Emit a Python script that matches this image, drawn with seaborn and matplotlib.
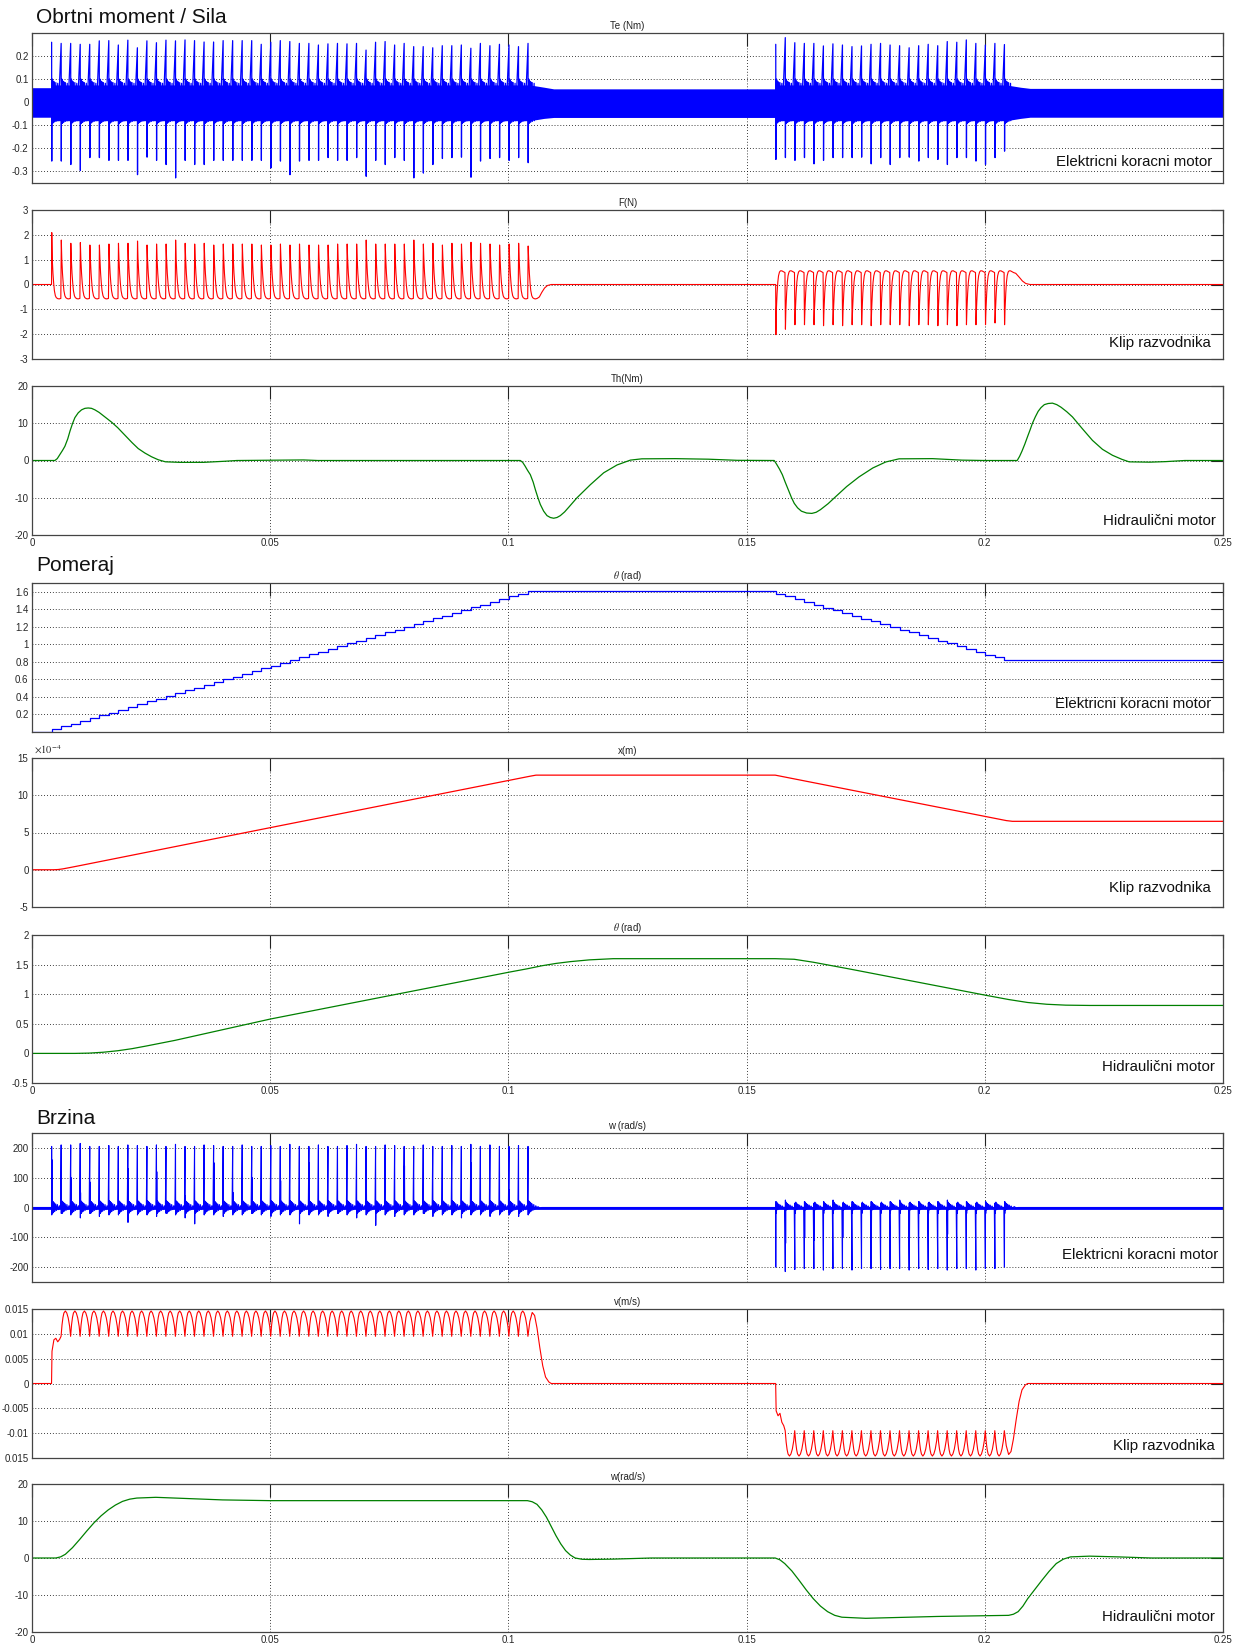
import matplotlib
matplotlib.use('Agg')
import matplotlib.pyplot as plt
import seaborn as sns

# ---------------- data ----------------
# step instants of the stepping motor (s)
steps_fwd = [0.0041, 0.0061, 0.0081, 0.0101, 0.0121, 0.0141, 0.0161, 0.0181, 0.0201, 0.0221,
             0.0241, 0.0261, 0.0281, 0.0301, 0.0321, 0.0341, 0.0361, 0.0381, 0.0401, 0.0421,
             0.0441, 0.0461, 0.0481, 0.0501, 0.0521, 0.0541, 0.0561, 0.0581, 0.0601, 0.0621,
             0.0641, 0.0661, 0.0681, 0.0701, 0.0721, 0.0741, 0.0761, 0.0781, 0.0801, 0.0821,
             0.0841, 0.0861, 0.0881, 0.0901, 0.0921, 0.0941, 0.0961, 0.0981, 0.1001, 0.1021,
             0.1041]
steps_rev = [0.1561, 0.1581, 0.1601, 0.1621, 0.1641, 0.1661, 0.1681, 0.1701, 0.1721, 0.1741,
             0.1761, 0.1781, 0.1801, 0.1821, 0.1841, 0.1861, 0.1881, 0.1901, 0.1921, 0.1941,
             0.1961, 0.1981, 0.2001, 0.2021, 0.2041]

# Te (Nm) spikes
te_up_fwd = [0.260, 0.255, 0.255, 0.251, 0.251, 0.266, 0.267, 0.248, 0.269, 0.236,
             0.266, 0.258, 0.269, 0.266, 0.270, 0.267, 0.261, 0.261, 0.267, 0.267,
             0.267, 0.267, 0.251, 0.260, 0.267, 0.263, 0.255, 0.255, 0.248, 0.253,
             0.255, 0.253, 0.255, 0.226, 0.260, 0.263, 0.248, 0.255, 0.241, 0.241,
             0.236, 0.245, 0.245, 0.248, 0.234, 0.255, 0.245, 0.251, 0.248, 0.241,
             0.255]
te_dn_fwd = [-0.255, -0.255, -0.270, -0.296, -0.240, -0.240, -0.252, -0.252, -0.252, -0.314,
             -0.238, -0.252, -0.270, -0.328, -0.252, -0.270, -0.270, -0.252, -0.252, -0.252,
             -0.252, -0.252, -0.252, -0.285, -0.255, -0.314, -0.255, -0.252, -0.252, -0.240,
             -0.252, -0.252, -0.240, -0.321, -0.252, -0.270, -0.240, -0.252, -0.328, -0.307,
             -0.270, -0.244, -0.240, -0.238, -0.325, -0.255, -0.244, -0.240, -0.252, -0.240,
             -0.262]
te_up_rev = [0.251, 0.280, 0.258, 0.255, 0.255, 0.244, 0.253, 0.248, 0.241, 0.244,
             0.251, 0.255, 0.248, 0.245, 0.236, 0.245, 0.251, 0.245, 0.263, 0.260,
             0.270, 0.255, 0.248, 0.255, 0.250]
te_dn_rev = [-0.248, -0.240, -0.252, -0.240, -0.267, -0.252, -0.240, -0.240, -0.240, -0.238,
             -0.267, -0.240, -0.270, -0.240, -0.238, -0.255, -0.240, -0.248, -0.270, -0.240,
             -0.240, -0.255, -0.270, -0.240, -0.212]
te_offs = [0.00002, 0.00005, 0.00008, 0.00018, 0.00022, 0.00035, 0.0004, 0.0006, 0.00065,
           0.0009, 0.00095, 0.0013, 0.00135]
te_shape = ['up', 'dn', 0.0, 0.1, -0.092, 0.092, -0.088, 0.088, -0.085, 0.085, -0.083, 0.082, -0.08]
te_band_t = [0, 0.0041, 0.0041, 0.1045, 0.1075, 0.1095, 0.1561, 0.1561, 0.2045, 0.2075, 0.2095, 0.25]
te_band_hi = [0.063, 0.063, 0.075, 0.075, 0.065, 0.058, 0.058, 0.075, 0.075, 0.065, 0.06, 0.06]
te_band_lo = [-0.065, -0.065, -0.08, -0.08, -0.07, -0.066, -0.066, -0.08, -0.08, -0.07, -0.065, -0.065]

# F (N) on the spool
f_pk_fwd = [2.09, 1.79, 1.66, 1.69, 1.59, 1.59, 1.63, 1.66, 1.66, 1.75,
            1.59, 1.63, 1.63, 1.79, 1.66, 1.63, 1.66, 1.59, 1.63, 1.63,
            1.63, 1.63, 1.59, 1.59, 1.63, 1.59, 1.63, 1.59, 1.59, 1.59,
            1.63, 1.63, 1.63, 1.79, 1.63, 1.63, 1.63, 1.63, 1.79, 1.63,
            1.66, 1.59, 1.66, 1.63, 1.70, 1.66, 1.63, 1.59, 1.63, 1.66,
            1.55]
f_pk_rev = [-2.02, -1.80, -1.62, -1.62, -1.62, -1.66, -1.62, -1.66, -1.62, -1.62,
            -1.66, -1.62, -1.62, -1.62, -1.66, -1.62, -1.62, -1.66, -1.62, -1.66,
            -1.62, -1.62, -1.62, -1.55, -1.62]
f_offs = [0.00005, 0.00015, 0.0003, 0.00045, 0.0006, 0.0008, 0.001, 0.0013, 0.0016, 0.00195]
f_shape_fwd = ['pk', 1.05, 0.45, 0.05, -0.25, -0.45, -0.53, -0.57, -0.58, -0.56]
f_shape_rev = ['pk', -1.0, -0.35, 0.1, 0.35, 0.5, 0.55, 0.55, 0.52, 0.48]
f_head_t, f_head_v = [0, 0.0041], [0, 0]
f_mid_t = [0.1065, 0.107, 0.1076, 0.1082, 0.109, 0.1561]
f_mid_v = [-0.5, -0.32, -0.14, -0.04, 0, 0]
f_end_t = [0.2065, 0.2072, 0.2079, 0.2086, 0.2095, 0.25]
f_end_v = [0.45, 0.3, 0.14, 0.04, 0, 0]

# Th (Nm) of the hydraulic motor
th_t = [0, 0.0048, 0.0053, 0.0058, 0.0064, 0.0069, 0.0075, 0.008, 0.0085, 0.009, 0.0097,
        0.0104, 0.0111, 0.0118, 0.0125, 0.0132, 0.0141, 0.015, 0.0167, 0.018,
        0.0195, 0.021, 0.0223, 0.0237, 0.0251, 0.0265, 0.028, 0.031, 0.036, 0.0405, 0.043, 0.057, 0.06,
        0.1025, 0.103, 0.1035, 0.104, 0.1046, 0.1052, 0.1057, 0.1062, 0.1067, 0.1074, 0.1081,
        0.1088, 0.1095, 0.1102, 0.1109, 0.1118, 0.1127, 0.1144, 0.1172, 0.12,
        0.1228, 0.1256, 0.128, 0.135, 0.142, 0.148, 0.1558,
        0.1563, 0.1569, 0.1575, 0.1581, 0.1588, 0.1594, 0.16, 0.1607, 0.1615, 0.1626, 0.1637,
        0.1646, 0.1655, 0.1671, 0.1687, 0.171, 0.1736, 0.1765, 0.1792,
        0.182, 0.189, 0.1952, 0.2, 0.2068,
        0.2073, 0.2078, 0.2084, 0.209, 0.2095, 0.21, 0.2106, 0.2112, 0.2118, 0.2125, 0.2133,
        0.2142, 0.2151, 0.216, 0.2172, 0.2184, 0.2205, 0.2226, 0.2247, 0.2268,
        0.2288, 0.2303, 0.2346, 0.238, 0.242, 0.25]
th_v = [0, 0, 0.5, 1.5, 2.7, 3.8, 5.8, 8.0, 9.9, 11.5, 12.8,
        13.6, 14.0, 14.1, 14.0, 13.6, 12.9, 12.0, 10.3, 8.8,
        6.8, 4.8, 3.2, 2.0, 1.0, 0.2, -0.35, -0.5, -0.5, -0.2, 0, 0.15, 0,
        0, -0.5, -1.5, -2.6, -3.8, -5.8, -8.0, -10.0, -11.8, -13.6, -14.8,
        -15.3, -15.5, -15.3, -14.8, -13.8, -12.5, -10.0, -6.5, -3.3,
        -1.2, 0.1, 0.45, 0.5, 0.35, 0.05, 0,
        -1.0, -2.3, -3.8, -5.8, -8.0, -9.9, -11.5, -12.7, -13.6, -14.1, -14.2,
        -13.9, -13.2, -11.6, -9.7, -7.0, -4.4, -2.0, -0.4,
        0.45, 0.5, 0.1, 0, 0,
        1.1, 2.5, 4.4, 6.5, 8.2, 10.0, 11.7, 13.2, 14.2, 15.0, 15.3,
        15.4, 15.0, 14.3, 13.1, 11.7, 8.5, 5.4, 3.0, 1.4,
        0.3, -0.36, -0.45, -0.3, 0, 0]

# theta (rad) of the stepping motor: level after each step
theta_e_levels = [0.0,
                  0.032, 0.063, 0.095, 0.126, 0.158, 0.190, 0.221, 0.253, 0.284, 0.316,
                  0.348, 0.379, 0.411, 0.442, 0.474, 0.506, 0.537, 0.569, 0.600, 0.632,
                  0.664, 0.695, 0.727, 0.758, 0.790, 0.822, 0.853, 0.885, 0.916, 0.948,
                  0.980, 1.011, 1.043, 1.074, 1.106, 1.138, 1.169, 1.201, 1.232, 1.264,
                  1.296, 1.327, 1.359, 1.390, 1.422, 1.454, 1.485, 1.517, 1.548, 1.580,
                  1.610,
                  1.578, 1.547, 1.515, 1.484, 1.452, 1.420, 1.389, 1.357, 1.326, 1.294,
                  1.262, 1.231, 1.199, 1.168, 1.136, 1.104, 1.073, 1.041, 1.010, 0.978,
                  0.946, 0.915, 0.883, 0.852, 0.820]

# x (m) of the spool, in units of 1e-4 m
x_t = [0, 0.0045, 0.0055, 0.0065, 0.008, 0.01, 0.05, 0.1045, 0.1058, 0.156, 0.1572, 0.2045, 0.2058, 0.25]
x_v = [0, 0, 0.03, 0.12, 0.3, 0.55, 5.65, 12.55, 12.7, 12.7, 12.55, 6.6, 6.5, 6.5]

# theta (rad) of the hydraulic motor
theta_h_t = [0, 0.009, 0.012, 0.015, 0.018, 0.021, 0.024, 0.03, 0.05, 0.1, 0.104, 0.107, 0.11,
             0.113, 0.117, 0.122, 0.156, 0.16, 0.164, 0.168, 0.172, 0.2, 0.205, 0.209, 0.213,
             0.217, 0.222, 0.25]
theta_h_v = [0, 0, 0.005, 0.02, 0.045, 0.08, 0.125, 0.22, 0.58, 1.37, 1.43, 1.48, 1.52,
             1.55, 1.58, 1.6, 1.6, 1.59, 1.54, 1.48, 1.42, 0.985, 0.91, 0.86, 0.83,
             0.815, 0.81, 0.81]

# w (rad/s) of the stepping motor
w_pk_fwd = [205, 210, 210, 215, 205, 205, 208, 205, 210, 208,
            205, 210, 205, 212, 205, 205, 210, 208, 205, 205,
            210, 205, 205, 208, 205, 212, 205, 205, 210, 205,
            205, 208, 212, 205, 205, 210, 208, 205, 205, 210,
            205, 205, 208, 205, 212, 205, 210, 205, 205, 208,
            205]
w_un_fwd = [-25, -20, -25, -35, -20, -30, -25, -25, -50, -25,
            -25, -30, -20, -25, -35, -55, -25, -25, -30, -25,
            -25, -20, -25, -30, -25, -25, -55, -25, -25, -30,
            -20, -25, -35, -25, -60, -25, -30, -25, -25, -20,
            -30, -25, -25, -35, -25, -25, -30, -25, -25, -30,
            -25]
w_sec_fwd = [160, 15, 100, 50, 85, 15, 20, 15, 130, 20,
             15, 120, 15, 15, 40, 15, 15, 150, 15, 50,
             15, 100, 15, 15, 90, 15, 15, 150, 15, 15,
             20, 15, 15, 100, 15, 15, 15, 140, 15, 15,
             15, 15, 15, 15, 150, 15, 15, 15, 60, 15,
             15]
w_pk_rev = [-200, -215, -208, -205, -205, -210, -205, -205, -210, -205,
            -205, -208, -205, -205, -210, -205, -208, -205, -210, -205,
            -205, -210, -205, -205, -200]
w_ov_rev = [20, 25, 15, 20, 15, 20, 25, 15, 20, 15,
            20, 15, 20, 25, 15, 20, 15, 20, 25, 15,
            20, 15, 20, 15, 20]
w_sec_rev = [-20, -120, -20, -100, -110, -20, -20, -100, -20, -20,
             -120, -20, -20, -20, -100, -20, -20, -20, -90, -20,
             -20, -20, -20, -20, -20]
w_offs = [0.00002, 0.00005, 0.00009, 0.00013, 0.00017, 0.00022, 0.00028, 0.00035, 0.00043,
          0.00052, 0.00062, 0.00074, 0.00088, 0.00104, 0.00122, 0.00142, 0.00165, 0.0019]
w_shape_fwd = ['pk', 'un', 'sec', -18, 22, -20, 20, -16, 18, -14, 15, -12, 12, -10, 10, -7, 6, -3]
w_shape_rev = ['pk', 'ov', 'sec', 12, -6, 18, -8, 14, -6, 12, -5, 10, -4, 8, -3, 5, -2, 1]
w_head_t, w_head_v = [0, 0.0041], [0, 0]
w_mid_t, w_mid_v = [0.1062, 0.1066, 0.107, 0.1561], [3, -2, 0, 0]
w_end_t, w_end_v = [0.2062, 0.2066, 0.207, 0.25], [3, -2, 0, 0]

# v (m/s) of the spool
v_offs = [0.0, 0.0002, 0.0004, 0.0006, 0.0009, 0.0012, 0.0015, 0.0018]
v_shape_fwd = [0.0095, 0.0118, 0.0133, 0.0142, 0.0146, 0.0142, 0.0132, 0.0115]
v_shape_rev = [-0.0095, -0.0118, -0.0133, -0.0142, -0.0146, -0.0142, -0.0132, -0.0115]
v_head_t = [0, 0.0041, 0.0042, 0.0046, 0.005, 0.0054, 0.0058]
v_head_v = [0, 0, 0.0065, 0.0088, 0.0091, 0.0084, 0.0089]
v_mid_t = [0.1041, 0.1045, 0.105, 0.1055, 0.106, 0.1066, 0.1072, 0.1078, 0.1085, 0.109, 0.1561,
           0.1562, 0.1566, 0.157, 0.1574, 0.1578]
v_mid_v = [0.0095, 0.0125, 0.0143, 0.0137, 0.0112, 0.0072, 0.0036, 0.0013, 0.0003, 0, 0,
           -0.0055, -0.0065, -0.006, -0.0078, -0.0085]
v_end_t = [0.2041, 0.2045, 0.205, 0.2055, 0.206, 0.2066, 0.2072, 0.2078, 0.2085, 0.209, 0.25]
v_end_v = [-0.0095, -0.0125, -0.0143, -0.0137, -0.0112, -0.0072, -0.0036, -0.0013, -0.0003, 0, 0]

# w (rad/s) of the hydraulic motor
wh_t = [0, 0.005, 0.006, 0.007, 0.0085, 0.01, 0.0115, 0.013, 0.0145, 0.016,
        0.0175, 0.019, 0.0205, 0.022, 0.026, 0.03, 0.04, 0.05, 0.104, 0.105,
        0.106, 0.107, 0.108, 0.109, 0.11, 0.111, 0.112, 0.113, 0.114, 0.1155,
        0.117, 0.122, 0.13, 0.156, 0.157, 0.158, 0.1595, 0.161, 0.1625, 0.164,
        0.1655, 0.167, 0.1685, 0.17, 0.175, 0.19, 0.205, 0.206, 0.207, 0.208,
        0.209, 0.2105, 0.212, 0.2135, 0.215, 0.2165, 0.218, 0.222, 0.228, 0.235,
        0.25]
wh_v = [0, 0, 0.3, 1, 2.8, 5, 7.3, 9.5, 11.4, 13,
        14.3, 15.3, 15.9, 16.2, 16.4, 16.2, 15.7, 15.5, 15.5, 15.2,
        14.5, 13, 11, 8.5, 6, 3.8, 2, 0.8, 0, -0.35,
        -0.4, -0.3, 0, 0, -0.5, -1.5, -3.5, -6, -8.6, -11,
        -13, -14.5, -15.5, -16, -16.3, -15.8, -15.5, -15.2, -14.5, -13,
        -11, -8.5, -6, -3.6, -1.5, -0.3, 0.3, 0.5, 0.3, 0,
        0]

x_ticks = [0, 0.05, 0.1, 0.15, 0.2, 0.25]
x_labels = ['0', '0.05', '0.1', '0.15', '0.2', '0.25']

group_titles = ['Obrtni moment / Sila', 'Pomeraj', 'Brzina']
panel_titles = ['Te (Nm)', 'F(N)', 'Th(Nm)', r'$\theta$ (rad)', 'x(m)', r'$\theta$ (rad)',
                'w (rad/s)', 'v(m/s)', 'w(rad/s)']
panel_notes = ['Elektricni koracni motor', 'Klip razvodnika', 'Hidraulični motor'] * 3

BLUE, RED, GREEN = '#0000ff', '#ff0000', '#008000'


def cycles(times, offsets, shape, **per_step):
    xs, ys = [], []
    for i, t0 in enumerate(times):
        for dt, v in zip(offsets, shape):
            xs.append(t0 + dt)
            ys.append(per_step[v][i] if isinstance(v, str) else v)
    return xs, ys


# ---------------- figure ----------------
sns.set_style('white')
plt.rcParams['font.family'] = ['Liberation Sans', 'DejaVu Sans']
plt.rcParams['mathtext.fontset'] = 'stix'

W, H = 1244, 1648
fig = plt.figure(figsize=(W / 100, H / 100), dpi=100)
boxes = [(33, 183), (210, 359), (386, 535), (583, 732), (758, 907), (935, 1083),
         (1133, 1282), (1309, 1458), (1484, 1632)]
axes = [fig.add_axes([32 / W, 1 - b / H, (1223 - 32) / W, (b - t) / H]) for t, b in boxes]


def line(ax, x, y, color, lw=0.8, **kw):
    sns.lineplot(x=x, y=y, ax=ax, color=color, lw=lw, estimator=None, sort=False, **kw)


# Te
ax = axes[0]
ax.fill_between(te_band_t, te_band_lo, te_band_hi, color=BLUE, lw=0, zorder=2)
tx, ty = cycles(steps_fwd, te_offs, te_shape, up=te_up_fwd, dn=te_dn_fwd)
line(ax, tx, ty, BLUE, lw=0.9)
tx, ty = cycles(steps_rev, te_offs, te_shape, up=te_up_rev, dn=te_dn_rev)
line(ax, tx, ty, BLUE, lw=0.9)

# F
ax = axes[1]
fx1, fy1 = cycles(steps_fwd, f_offs, f_shape_fwd, pk=f_pk_fwd)
fx2, fy2 = cycles(steps_rev, f_offs, f_shape_rev, pk=f_pk_rev)
line(ax, f_head_t + fx1 + f_mid_t + fx2 + f_end_t, f_head_v + fy1 + f_mid_v + fy2 + f_end_v, RED)

# Th
line(axes[2], th_t, th_v, GREEN, lw=0.9)

# theta electric (staircase)
line(axes[3], [0] + steps_fwd + steps_rev + [0.25], theta_e_levels + [theta_e_levels[-1]],
     BLUE, lw=0.9, drawstyle='steps-post')

# x spool
line(axes[4], x_t, x_v, RED, lw=0.9)

# theta hydraulic
line(axes[5], theta_h_t, theta_h_v, GREEN, lw=0.9)

# w electric
ax = axes[6]
ax.axhline(0, color=BLUE, lw=2.0, zorder=2)
wx1, wy1 = cycles(steps_fwd, w_offs, w_shape_fwd, pk=w_pk_fwd, un=w_un_fwd, sec=w_sec_fwd)
wx2, wy2 = cycles(steps_rev, w_offs, w_shape_rev, pk=w_pk_rev, ov=w_ov_rev, sec=w_sec_rev)
line(ax, w_head_t + wx1 + w_mid_t + wx2 + w_end_t, w_head_v + wy1 + w_mid_v + wy2 + w_end_v, BLUE)

# v spool
vx1, vy1 = cycles(steps_fwd[1:-1], v_offs, v_shape_fwd)
vx2, vy2 = cycles(steps_rev[1:-1], v_offs, v_shape_rev)
line(axes[7], v_head_t + vx1 + v_mid_t + vx2 + v_end_t, v_head_v + vy1 + v_mid_v + vy2 + v_end_v, RED)

# w hydraulic
line(axes[8], wh_t, wh_v, GREEN, lw=0.9)

# ---------------- axes styling ----------------
y_setup = [
    ([-0.3, -0.2, -0.1, 0, 0.1, 0.2], ['-0.3', '-0.2', '-0.1', '0', '0.1', '0.2'], (-0.35, 0.3)),
    ([-3, -2, -1, 0, 1, 2, 3], ['-3', '-2', '-1', '0', '1', '2', '3'], (-3, 3)),
    ([-20, -10, 0, 10, 20], ['-20', '-10', '0', '10', '20'], (-20, 20)),
    ([0.2, 0.4, 0.6, 0.8, 1.0, 1.2, 1.4, 1.6], ['0.2', '0.4', '0.6', '0.8', '1', '1.2', '1.4', '1.6'], (0, 1.7)),
    ([-5, 0, 5, 10, 15], ['-5', '0', '5', '10', '15'], (-5, 15)),
    ([-0.5, 0, 0.5, 1, 1.5, 2], ['-0.5', '0', '0.5', '1', '1.5', '2'], (-0.5, 2)),
    ([-200, -100, 0, 100, 200], ['-200', '-100', '0', '100', '200'], (-250, 250)),
    ([-0.015, -0.01, -0.005, 0, 0.005, 0.01, 0.015],
     ['0.015', '-0.01', '-0.005', '0', '0.005', '0.01', '0.015'], (-0.015, 0.015)),
    ([-20, -10, 0, 10, 20], ['-20', '-10', '0', '10', '20'], (-20, 20)),
]
note_offsets = [(11, 21), (12, 16), (7, 14), (12, 28), (12, 19), (8, 16), (5, 27), (8, 12), (8, 15)]

for i, ax in enumerate(axes):
    yt, yl, ylim = y_setup[i]
    ax.set_xlim(0, 0.25)
    ax.set_ylim(*ylim)
    ax.set_xticks(x_ticks)
    ax.set_xticklabels(x_labels)
    ax.set_yticks(yt)
    ax.set_yticklabels(yl)
    ax.set_xlabel('')
    ax.set_ylabel('')
    ax.set_axisbelow(True)
    ax.tick_params(direction='in', length=9, width=0.8, top=True, right=True, labelsize=7,
                   pad=2.5, labelcolor='#262626', color='#222222',
                   labelbottom=(i % 3 == 2))
    ax.grid(True, color='black', linestyle=(0, (1, 2.5)), lw=0.6)
    for s in ax.spines.values():
        s.set_color('#444444')
        s.set_linewidth(0.9)
    ax.set_title(panel_titles[i], fontsize=7, pad=3, color='#222222')
    dx, dy = note_offsets[i]
    ax.annotate(panel_notes[i], xy=(1, 0), xycoords='axes fraction', xytext=(-dx, dy),
                textcoords='offset pixels', ha='right', va='center', fontsize=10.8,
                color='#111111')

# multiplier of the x(m) panel
fig.text(34 / W, 1 - 754 / H, r'$\times10^{-4}$', fontsize=7.5, color='#262626', va='baseline')

# group titles
for title, base in zip(group_titles, [23, 571, 1124]):
    fig.text(36 / W, 1 - base / H, title, fontsize=15, color='#111111', va='baseline')

fig.savefig('out.png', dpi=100)
